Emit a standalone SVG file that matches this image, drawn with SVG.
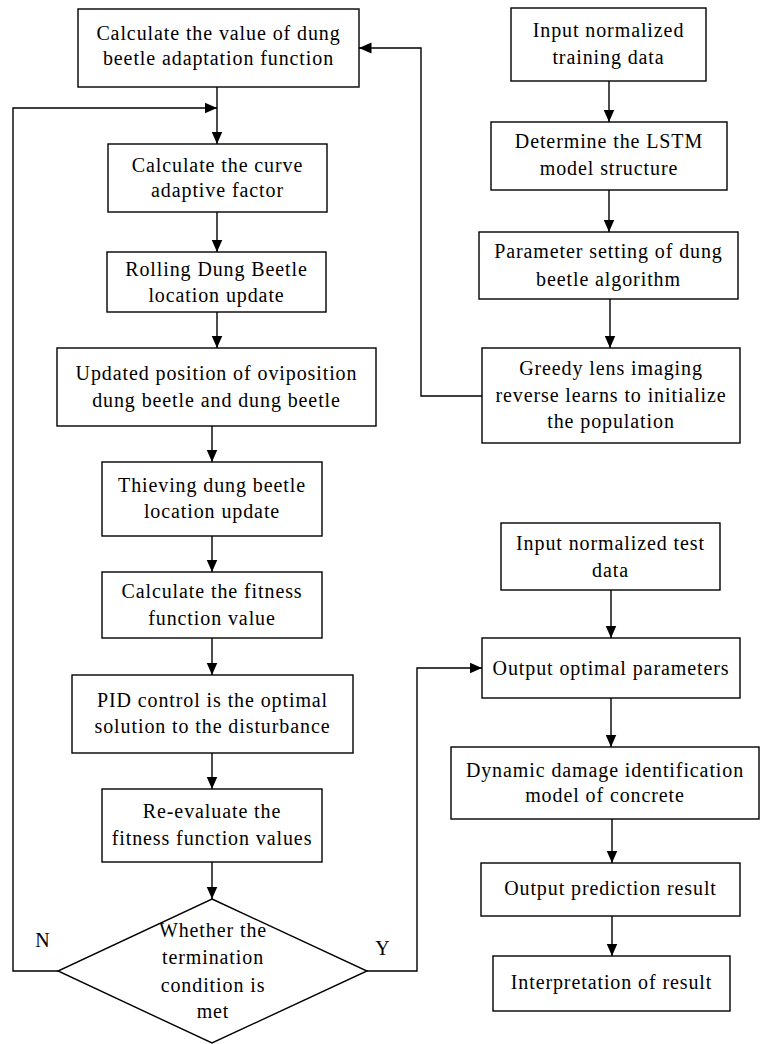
<svg xmlns="http://www.w3.org/2000/svg" width="760" height="1044" viewBox="0 0 760 1044">
<style>
.b{fill:#fff;stroke:#000;stroke-width:1.4}
.c{fill:none;stroke:#000;stroke-width:1.4}
.t{font-family:'Liberation Serif','Times New Roman',serif;font-size:20px;letter-spacing:0.9px;fill:#000;text-anchor:middle}
</style>
<defs>
<marker id="a" markerUnits="userSpaceOnUse" markerWidth="13" markerHeight="12" refX="12.5" refY="6" orient="auto">
<path d="M0,0.5 L12.5,6 L0,11.5 z" fill="#000"/>
</marker>
</defs>
<rect width="760" height="1044" fill="#fff"/>
<g id="connectors">
<path class="c" d="M217,87 V144" marker-end="url(#a)"/>
<path class="c" d="M58,971 H13 V108 H217" marker-end="url(#a)"/>
<path class="c" d="M217,212 V252" marker-end="url(#a)"/>
<path class="c" d="M217,312 V348" marker-end="url(#a)"/>
<path class="c" d="M212,426 V462" marker-end="url(#a)"/>
<path class="c" d="M212,536 V572" marker-end="url(#a)"/>
<path class="c" d="M212,638 V675" marker-end="url(#a)"/>
<path class="c" d="M212,753 V789" marker-end="url(#a)"/>
<path class="c" d="M212,862 V899" marker-end="url(#a)"/>
<path class="c" d="M367,971 H417 V668 H482" marker-end="url(#a)"/>
<path class="c" d="M609,81 V122" marker-end="url(#a)"/>
<path class="c" d="M609,190 V232" marker-end="url(#a)"/>
<path class="c" d="M610,299 V348" marker-end="url(#a)"/>
<path class="c" d="M482,396 H421 V48 H359" marker-end="url(#a)"/>
<path class="c" d="M611,590 V638" marker-end="url(#a)"/>
<path class="c" d="M611,698 V747" marker-end="url(#a)"/>
<path class="c" d="M612,819 V863" marker-end="url(#a)"/>
<path class="c" d="M612,916 V956" marker-end="url(#a)"/>
</g>
<g class="t">
<g id="n1"><rect class="b" x="78" y="9" width="281" height="78"/><text x="218.5" y="40">Calculate the value of dung</text><text x="218.5" y="65">beetle adaptation function</text></g>
<g id="n2"><rect class="b" x="108" y="144" width="219" height="68"/><text x="217.5" y="172">Calculate the curve</text><text x="217.5" y="197">adaptive factor</text></g>
<g id="n3"><rect class="b" x="107" y="252" width="219" height="60"/><text x="216.5" y="276">Rolling Dung Beetle</text><text x="216.5" y="302">location update</text></g>
<g id="n4"><rect class="b" x="57" y="348" width="319" height="78"/><text x="216.5" y="380">Updated position of oviposition</text><text x="216.5" y="407">dung beetle and dung beetle</text></g>
<g id="n5"><rect class="b" x="102" y="462" width="220" height="74"/><text x="212" y="492">Thieving dung beetle</text><text x="212" y="518">location update</text></g>
<g id="n6"><rect class="b" x="102" y="572" width="220" height="66"/><text x="212" y="598">Calculate the fitness</text><text x="212" y="625">function value</text></g>
<g id="n7"><rect class="b" x="72" y="675" width="281" height="78"/><text x="212.5" y="707">PID control is the optimal</text><text x="212.5" y="733">solution to the disturbance</text></g>
<g id="n8"><rect class="b" x="102" y="789" width="220" height="73"/><text x="212" y="818">Re-evaluate the</text><text x="212" y="845">fitness function values</text></g>
<g id="n9"><polygon class="b" points="212,899 367,971 212,1043 58,971"/><text x="213" y="937">Whether the</text><text x="213" y="964">termination</text><text x="213" y="992">condition is</text><text x="213" y="1018">met</text></g>
<g id="lN"><text x="43" y="947">N</text></g>
<g id="lY"><text x="383" y="955">Y</text></g>
<g id="r1"><rect class="b" x="511" y="8" width="195" height="73"/><text x="608.5" y="37">Input normalized</text><text x="608.5" y="64">training data</text></g>
<g id="r2"><rect class="b" x="491" y="122" width="236" height="68"/><text x="609" y="148">Determine the LSTM</text><text x="609" y="175">model structure</text></g>
<g id="r3"><rect class="b" x="479" y="232" width="259" height="67"/><text x="608.5" y="258">Parameter setting of dung</text><text x="608.5" y="286">beetle algorithm</text></g>
<g id="r4"><rect class="b" x="482" y="348" width="258" height="95"/><text x="611" y="375">Greedy lens imaging</text><text x="611" y="402">reverse learns to initialize</text><text x="611" y="428">the population</text></g>
<g id="r5"><rect class="b" x="501" y="523" width="219" height="67"/><text x="610.5" y="550">Input normalized test</text><text x="610.5" y="577">data</text></g>
<g id="r6"><rect class="b" x="482" y="638" width="258" height="60"/><text x="611" y="675">Output optimal parameters</text></g>
<g id="r7"><rect class="b" x="451" y="747" width="308" height="72"/><text x="605" y="777">Dynamic damage identification</text><text x="605" y="802">model of concrete</text></g>
<g id="r8"><rect class="b" x="481" y="863" width="259" height="53"/><text x="610.5" y="895">Output prediction result</text></g>
<g id="r9"><rect class="b" x="493" y="956" width="237" height="55"/><text x="611.5" y="989">Interpretation of result</text></g>
</g>
</svg>
